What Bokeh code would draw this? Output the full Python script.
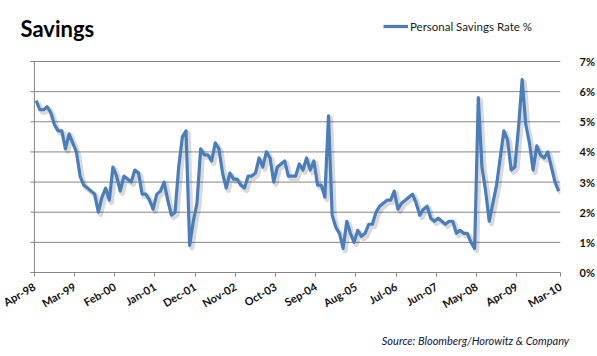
from bokeh.plotting import figure
from bokeh.models import FixedTicker, LinearAxis, Range1d, Label, Legend, LegendItem
from bokeh.embed import file_html
from bokeh.resources import INLINE

# Monthly personal savings rate, Apr-98 .. Mar-10 (144 months)
months = list(range(144))
savings = [
    5.7, 5.4, 5.4, 5.5, 5.3, 4.9, 4.7, 4.7, 4.1, 4.6, 4.3, 4.0,
    3.2, 2.9, 2.8, 2.7, 2.6, 2.0, 2.5, 2.8, 2.4, 3.5, 3.2, 2.7,
    3.2, 3.1, 3.0, 3.4, 3.3, 2.6, 2.6, 2.4, 2.1, 2.6, 2.7, 3.0,
    2.4, 1.9, 2.0, 3.5, 4.5, 4.7, 0.9, 1.7, 2.3, 4.1, 3.9, 3.9,
    3.7, 4.3, 4.1, 3.3, 2.8, 3.3, 3.1, 3.1, 2.9, 2.8, 3.2, 3.2,
    3.3, 3.8, 3.5, 4.0, 3.8, 3.0, 3.5, 3.6, 3.7, 3.2, 3.2, 3.2,
    3.6, 3.4, 3.8, 3.4, 3.7, 2.9, 2.9, 2.5, 5.2, 1.9, 1.5, 1.3,
    0.8, 1.7, 1.3, 1.0, 1.4, 1.2, 1.3, 1.6, 1.6, 2.0, 2.2, 2.3,
    2.4, 2.4, 2.7, 2.1, 2.3, 2.4, 2.5, 2.6, 2.3, 1.9, 2.1, 2.2,
    1.8, 1.7, 1.8, 1.7, 1.6, 1.7, 1.7, 1.3, 1.4, 1.3, 1.3, 1.0,
    0.8, 5.8, 3.5, 2.7, 1.7, 2.3, 2.9, 3.8, 4.7, 4.4, 3.4, 3.5,
    4.8, 6.4, 4.9, 4.3, 3.4, 4.2, 3.9, 3.8, 4.0, 3.5, 3.0, 2.7,
]
tick_months = [0, 11, 22, 33, 44, 55, 66, 77, 88, 99, 110, 121, 132, 143]
tick_labels = ["Apr-98", "Mar-99", "Feb-00", "Jan-01", "Dec-01", "Nov-02", "Oct-03",
               "Sep-04", "Aug-05", "Jul-06", "Jun-07", "May-08", "Apr-09", "Mar-10"]
y_ticks = [0, 1, 2, 3, 4, 5, 6, 7]
y_labels = ["0%", "1%", "2%", "3%", "4%", "5%", "6%", "7%"]

FONT = "Lato"
GRID = "#868686"
BLUE = "#4A7EBB"

# ---- geometry (page pixels) ----
W, H = 597, 356
PLOT_L, PLOT_R, PLOT_T, PLOT_B = 34, 563, 61, 272   # inner plot area
FRAME_L = 14                                        # frame reaches left for title
n = len(months)
ppx = (PLOT_R - PLOT_L) / n                         # pixels per month
ppy = (PLOT_B - PLOT_T) / (y_ticks[-1] - y_ticks[0])
x_end = n - 0.5
x_start = x_end - (PLOT_R - FRAME_L) / ppx
grid_x0 = -0.5 - 4 / ppx                            # gridlines start 4px left of axis
y_end = y_ticks[0] + PLOT_B / ppy

p = figure(width=W, height=H, output_backend="svg", toolbar_location=None,
           x_range=Range1d(x_start, x_end), y_range=Range1d(y_ticks[0], y_end),
           y_axis_location="right",
           min_border_left=FRAME_L, min_border_right=W - PLOT_R,
           min_border_top=0, min_border_bottom=H - PLOT_B)
p.outline_line_color = None
p.background_fill_color = "white"
p.xgrid.grid_line_color = None
p.ygrid.grid_line_color = None

# horizontal gridlines (from the tick list) and the left axis line
p.segment(x0=[grid_x0] * len(y_ticks), y0=y_ticks, x1=[x_end] * len(y_ticks), y1=y_ticks,
          line_color=GRID, line_width=1)
p.segment(x0=[-0.5], y0=[y_ticks[0] - 4 / ppy], x1=[-0.5], y1=[y_ticks[-1]],
          line_color=GRID, line_width=1)

# x axis: tick marks on category boundaries
tick_pos = [m - 0.5 for m in tick_months[:-1]] + [tick_months[-1] + 0.5]
xa = p.xaxis[0]
xa.bounds = (grid_x0, x_end)
xa.ticker = FixedTicker(ticks=tick_pos)
xa.major_label_overrides = {t: l for t, l in zip(tick_pos, tick_labels)}
xa.major_label_orientation = 0.52
xa.major_label_text_font = FONT
xa.major_label_text_font_style = "bold"
xa.major_label_text_font_size = "11px"
xa.major_label_text_color = "#111111"
xa.major_label_standoff = 9
xa.axis_line_color = GRID
xa.major_tick_line_color = GRID
xa.major_tick_in = 0
xa.major_tick_out = 4
xa.minor_tick_line_color = None

# right axis with percent labels
ra = p.yaxis[0]
ra.ticker = FixedTicker(ticks=y_ticks)
ra.major_label_overrides = {t: l for t, l in zip(y_ticks, y_labels)}
ra.axis_line_color = None
ra.major_tick_line_color = None
ra.minor_tick_line_color = None
ra.major_label_text_font = FONT
ra.major_label_text_font_style = "bold"
ra.major_label_text_font_size = "11px"
ra.major_label_text_color = "#111111"
ra.major_label_standoff = 13

# source note: a bare axis below the date axis carrying one label
src_center = (386 + 569) / 2
src_pos = (src_center - PLOT_L) / ppx - 0.5
sa = LinearAxis(ticker=FixedTicker(ticks=[src_pos]),
                major_label_overrides={src_pos: "Source: Bloomberg/Horowitz & Company"})
sa.axis_line_color = None
sa.major_tick_line_color = None
sa.minor_tick_line_color = None
sa.major_tick_in = 0
sa.major_tick_out = 0
sa.major_label_standoff = 15
sa.major_label_text_font = FONT
sa.major_label_text_font_style = "italic"
sa.major_label_text_font_size = "11px"
sa.major_label_text_color = "#14143a"
p.add_layout(sa, "below")

# shadow then line
shadow_x = [m + 0.6 for m in months]
shadow_y = [v - 0.08 for v in savings]
p.line(shadow_x, shadow_y, line_color="#000000", line_alpha=0.15, line_width=5,
       line_join="round")
r = p.line(months, savings, line_color=BLUE, line_width=3.2, line_join="round")

legend = Legend(items=[LegendItem(label="Personal Savings Rate %", renderers=[r])],
                location=(383 - FRAME_L, PLOT_B - 33), orientation="horizontal",
                glyph_width=25, glyph_height=14, label_height=14, label_standoff=2,
                padding=0, margin=0, spacing=0,
                background_fill_alpha=0, border_line_alpha=0,
                label_text_font=FONT, label_text_font_size="11.5px",
                label_text_color="#1a1a1a")
p.add_layout(legend, "center")

title = Label(x=20 - FRAME_L, y=PLOT_B - 28, x_units="screen", y_units="screen",
              text="Savings", text_font=FONT, text_font_style="bold",
              text_font_size="22px", text_color="#000000",
              text_baseline="alphabetic", text_align="left")
p.add_layout(title)

open("out.html", "w").write(file_html(p, INLINE))
